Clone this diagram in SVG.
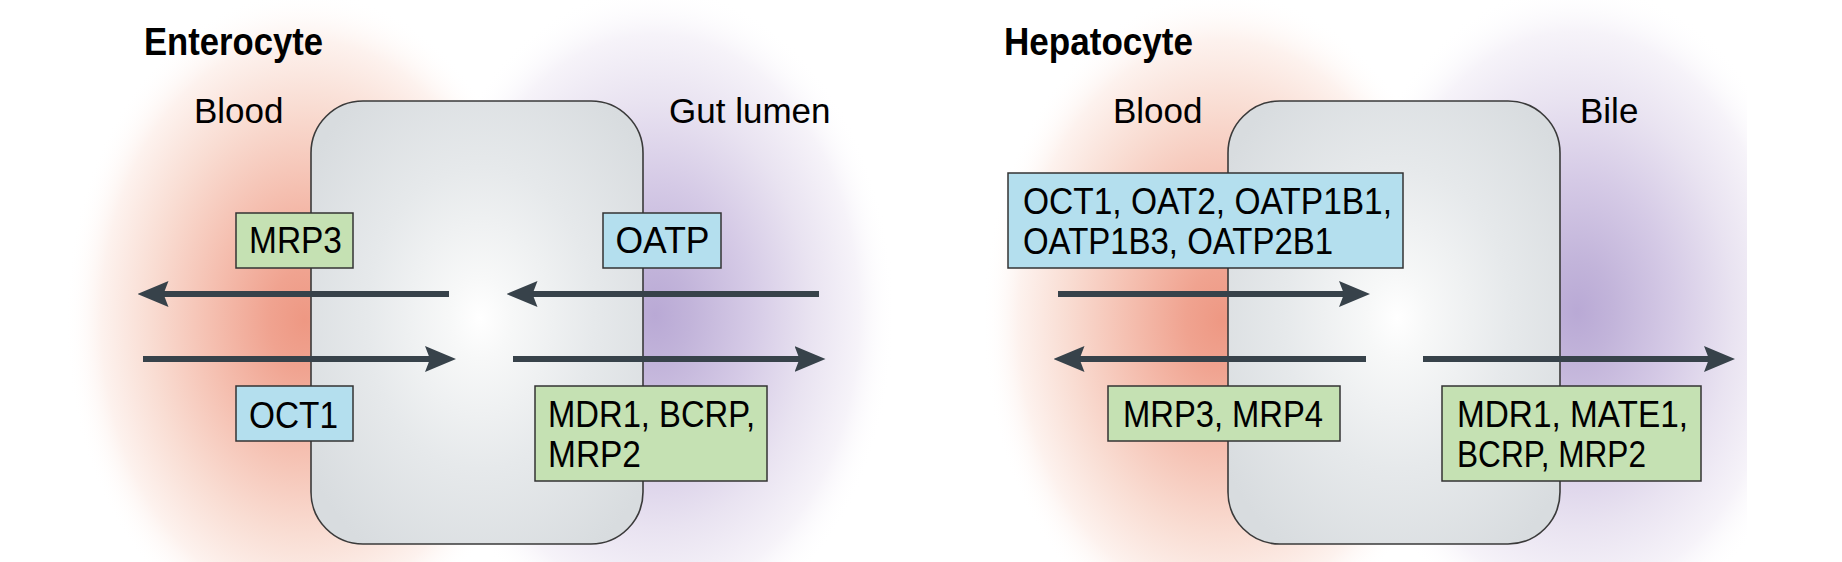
<svg xmlns="http://www.w3.org/2000/svg" width="1842" height="562" viewBox="0 0 1842 562">
  <style>
    .title { font-family: "Liberation Sans", Arial, sans-serif; font-weight: bold; font-size: 38px; fill: #000; }
    .lbl { font-family: "Liberation Sans", Arial, sans-serif; font-size: 35px; fill: #000; }
    .bt { font-family: "Liberation Sans", Arial, sans-serif; font-size: 37px; fill: #000; }
    .cell { fill: url(#cellGrad); stroke: #3a3a3a; stroke-width: 1.6; }
    .green { fill: #c5e1b3; stroke: #333; stroke-width: 1.5; }
    .blue { fill: #b4dfee; stroke: #333; stroke-width: 1.5; }
    .arr { stroke: #37424a; stroke-width: 6; fill: none; marker-end: url(#head); }
  </style>
  <defs>
    <radialGradient id="cellGrad" cx="0.51" cy="0.49" r="0.62">
      <stop offset="0" stop-color="#ffffff"/>
      <stop offset="0.15" stop-color="#f7f8f8"/>
      <stop offset="0.55" stop-color="#e6e9eb"/>
      <stop offset="1" stop-color="#d8dcdf"/>
    </radialGradient>
    <radialGradient id="redGlow" cx="0.5" cy="0.5" r="0.5">
      <stop offset="0" stop-color="#ee9883"/>
      <stop offset="0.15" stop-color="#f0a390"/>
      <stop offset="0.4" stop-color="#f5c0b1"/>
      <stop offset="0.65" stop-color="#f9ddd3"/>
      <stop offset="0.85" stop-color="#fdf2ee"/>
      <stop offset="1" stop-color="#ffffff" stop-opacity="0"/>
    </radialGradient>
    <radialGradient id="purpleGlow" cx="0.5" cy="0.5" r="0.5">
      <stop offset="0" stop-color="#b9a9d5"/>
      <stop offset="0.15" stop-color="#c2b4da"/>
      <stop offset="0.4" stop-color="#d5cae6"/>
      <stop offset="0.65" stop-color="#e9e3f1"/>
      <stop offset="0.85" stop-color="#f6f3f9"/>
      <stop offset="1" stop-color="#ffffff" stop-opacity="0"/>
    </radialGradient>
    <clipPath id="bileClip"><rect x="0" y="0" width="1747" height="562"/></clipPath>
    <marker id="head" markerUnits="userSpaceOnUse" viewBox="0 0 31 28" markerWidth="31" markerHeight="28" refX="10" refY="14" orient="auto">
      <path d="M0,1 L31,14 L0,27 L5,14 Z" fill="#37424a"/>
    </marker>
  </defs>

  <rect x="0" y="0" width="1842" height="562" fill="#ffffff"/>

  <g id="background-glows">
    <ellipse cx="305" cy="320" rx="240" ry="330" fill="url(#redGlow)"/>
    <ellipse cx="655" cy="315" rx="240" ry="330" fill="url(#purpleGlow)"/>
    <ellipse cx="1222" cy="320" rx="240" ry="330" fill="url(#redGlow)"/>
    <g clip-path="url(#bileClip)">
      <ellipse cx="1577" cy="312" rx="240" ry="330" fill="url(#purpleGlow)"/>
    </g>
  </g>

  <g id="enterocyte-cell">
    <rect class="cell" x="311" y="101" width="332" height="443" rx="52" ry="52"/>
  </g>
  <g id="hepatocyte-cell">
    <rect class="cell" x="1228" y="101" width="332" height="443" rx="52" ry="52"/>
  </g>

  <g id="connectors">
    <line class="arr" x1="449" y1="294" x2="158.5" y2="294"/>
    <line class="arr" x1="143" y1="359" x2="435" y2="359"/>
    <line class="arr" x1="819" y1="294" x2="527.5" y2="294"/>
    <line class="arr" x1="513" y1="359" x2="804.5" y2="359"/>
    <line class="arr" x1="1058" y1="294" x2="1349" y2="294"/>
    <line class="arr" x1="1366" y1="359" x2="1074.5" y2="359"/>
    <line class="arr" x1="1423" y1="359" x2="1714" y2="359"/>
  </g>

  <g id="titles">
    <text class="title" x="144" y="55" textLength="179" lengthAdjust="spacingAndGlyphs">Enterocyte</text>
    <text class="title" x="1004" y="55" textLength="189" lengthAdjust="spacingAndGlyphs">Hepatocyte</text>
  </g>

  <g id="compartment-labels">
    <text class="lbl" x="194" y="122.5">Blood</text>
    <text class="lbl" x="669" y="123">Gut lumen</text>
    <text class="lbl" x="1113" y="122.5">Blood</text>
    <text class="lbl" x="1580" y="123">Bile</text>
  </g>

  <g id="node-mrp3">
    <rect class="green" x="236" y="213" width="117" height="55"/>
    <text class="bt" x="249" y="253" textLength="93" lengthAdjust="spacingAndGlyphs">MRP3</text>
  </g>
  <g id="node-oct1">
    <rect class="blue" x="236" y="386" width="117" height="55"/>
    <text class="bt" x="249" y="428" textLength="89" lengthAdjust="spacingAndGlyphs">OCT1</text>
  </g>
  <g id="node-oatp">
    <rect class="blue" x="603" y="213" width="118" height="55"/>
    <text class="bt" x="615.5" y="253" textLength="94" lengthAdjust="spacingAndGlyphs">OATP</text>
  </g>
  <g id="node-mdr1-bcrp-mrp2">
    <rect class="green" x="535" y="386" width="232" height="95"/>
    <text class="bt" x="548" y="426.5" textLength="207" lengthAdjust="spacingAndGlyphs">MDR1, BCRP,</text>
    <text class="bt" x="548" y="467" textLength="93" lengthAdjust="spacingAndGlyphs">MRP2</text>
  </g>
  <g id="node-uptake-hep">
    <rect class="blue" x="1008" y="173" width="395" height="95"/>
    <text class="bt" x="1023" y="214" textLength="369" lengthAdjust="spacingAndGlyphs">OCT1, OAT2, OATP1B1,</text>
    <text class="bt" x="1023" y="253.5" textLength="310" lengthAdjust="spacingAndGlyphs">OATP1B3, OATP2B1</text>
  </g>
  <g id="node-mrp3-mrp4">
    <rect class="green" x="1108" y="386" width="232" height="55"/>
    <text class="bt" x="1123" y="427" textLength="200" lengthAdjust="spacingAndGlyphs">MRP3, MRP4</text>
  </g>
  <g id="node-mdr1-mate1">
    <rect class="green" x="1442" y="386" width="259" height="95"/>
    <text class="bt" x="1457" y="426.5" textLength="231" lengthAdjust="spacingAndGlyphs">MDR1, MATE1,</text>
    <text class="bt" x="1457" y="467" textLength="189" lengthAdjust="spacingAndGlyphs">BCRP, MRP2</text>
  </g>
</svg>
